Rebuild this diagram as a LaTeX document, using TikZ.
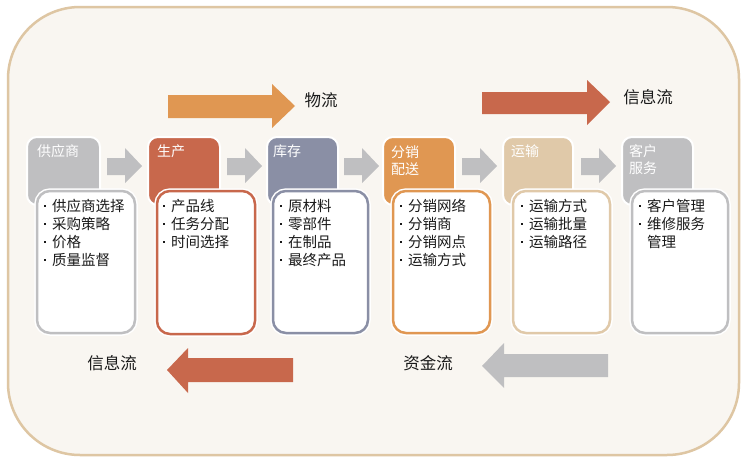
\documentclass[tikz,border=0pt]{standalone}
\usepackage{fontspec}
\setmainfont{Noto Sans CJK SC}
\definecolor{bg}{HTML}{F9F6F1}
\definecolor{framec}{HTML}{DEC6A3}
\definecolor{cgray}{HTML}{BFBFC1}
\definecolor{cred}{HTML}{C8684C}
\definecolor{cslate}{HTML}{8A8FA5}
\definecolor{corange}{HTML}{E09752}
\definecolor{ctan}{HTML}{E0C9A9}
\definecolor{txt}{HTML}{1A1A1A}
\newcommand{\bul}{\makebox[9pt][l]{\hspace{0.6pt}\raisebox{4.6pt}{\rule{2.2pt}{2.2pt}}}}
\newcommand{\nobul}{\makebox[9pt][l]{}}
\tikzset{
  hdrbox/.style={fill=#1, draw=white, line width=2pt, rounded corners=10pt},
  listbox/.style={fill=white, draw=#1, line width=2.5pt, rounded corners=13pt,
    preaction={draw=white, line width=5.5pt}},
  hdrtext/.style={anchor=west, inner sep=0pt, text=white,
    font=\fontsize{14}{17}\selectfont, text height=12.3pt, text depth=1.7pt},
  itemtext/.style={anchor=west, inner sep=0pt, text=txt,
    font=\fontsize{14.5}{18}\selectfont, text height=12.8pt, text depth=1.7pt},
  flowlabel/.style={inner sep=0pt, text=txt,
    font=\fontsize{16.5}{20}\selectfont, text height=14.5pt, text depth=2pt},
  steparrow/.style={fill=cgray, draw=none},
}
\begin{document}
\begin{tikzpicture}[x=1pt,y=-1pt]
\useasboundingbox (0,0) rectangle (750,466);
\fill[white] (0,0) rectangle (750,466);
% outer frame
\draw[fill=bg, draw=framec, line width=2.5pt, rounded corners=72pt] (8,7) rectangle (739,455);

% header boxes
\draw[hdrbox=cgray]   (27,137)  rectangle (100,205);
\draw[hdrbox=cred]    (148,137) rectangle (220,205);
\draw[hdrbox=cslate]  (267,137) rectangle (338,205);
\draw[hdrbox=corange] (383,137) rectangle (455,205);
\draw[hdrbox=ctan]    (503,137) rectangle (573,205);
\draw[hdrbox=cgray]   (622,137) rectangle (693,205);

% list boxes
\draw[listbox=cgray]   (37,191)  rectangle (135,333);
\draw[listbox=cred]    (157,191) rectangle (255,334);
\draw[listbox=cslate]  (273,191) rectangle (368,333);
\draw[listbox=corange] (393,191) rectangle (490,333);
\draw[listbox=ctan]    (513,191) rectangle (610,333);
\draw[listbox=cgray]   (632,191) rectangle (728,333);

% small step arrows
\foreach \x in {107,227,344,462,581}
  \fill[steparrow] (\x,158) -- (\x+18,158) -- (\x+18,148) -- (\x+35,166)
     -- (\x+18,183) -- (\x+18,175) -- (\x,175) -- cycle;

% header texts
\node[hdrtext] (h1)  at (37,151)  {供应商};
\node[hdrtext] (h2)  at (157,151) {生产};
\node[hdrtext] (h3)  at (273,151) {库存};
\node[hdrtext] (h4a) at (391,152) {分销};
\node[hdrtext] (h4b) at (391,169) {配送};
\node[hdrtext] (h5)  at (511,151) {运输};
\node[hdrtext] (h6a) at (629,151) {客户};
\node[hdrtext] (h6b) at (629,168) {服务};

% list items
\foreach \t [count=\k] in {供应商选择,采购策略,价格,质量监督}
  \node[itemtext] (a\k) at (43,{206+18*(\k-1)}) {\bul\t};
\foreach \t [count=\k] in {产品线,任务分配,时间选择}
  \node[itemtext] (b\k) at (162,{206+18*(\k-1)}) {\bul\t};
\foreach \t [count=\k] in {原材料,零部件,在制品,最终产品}
  \node[itemtext] (c\k) at (279,{206+18*(\k-1)}) {\bul\t};
\foreach \t [count=\k] in {分销网络,分销商,分销网点,运输方式}
  \node[itemtext] (d\k) at (399,{206+18*(\k-1)}) {\bul\t};
\foreach \t [count=\k] in {运输方式,运输批量,运输路径}
  \node[itemtext] (e\k) at (520,{206+18*(\k-1)}) {\bul\t};
\node[itemtext] (f1) at (638,206) {\bul 客户管理};
\node[itemtext] (f2) at (638,224) {\bul 维修服务};
\node[itemtext] (f3) at (638,242) {\nobul 管理};

% big flow arrows
\fill[corange] (168,95) -- (272,95) -- (272,84) -- (295,106) -- (272,128) -- (272,118) -- (168,118) -- cycle;
\fill[cred] (482,92) -- (587,92) -- (587,80) -- (610,102) -- (587,125) -- (587,114) -- (482,114) -- cycle;
\fill[cred] (293,358) -- (188,358) -- (188,348) -- (167,370) -- (188,393) -- (188,382) -- (293,382) -- cycle;
\fill[cgray] (608,354) -- (504,354) -- (504,343) -- (482,366) -- (504,388) -- (504,377) -- (608,377) -- cycle;

% flow labels
\node[flowlabel] (l1) at (321,100) {物流};
\node[flowlabel] (l2) at (648,97)  {信息流};
\node[flowlabel] (l3) at (112,363) {信息流};
\node[flowlabel] (l4) at (428,363) {资金流};
\end{tikzpicture}
\end{document}
